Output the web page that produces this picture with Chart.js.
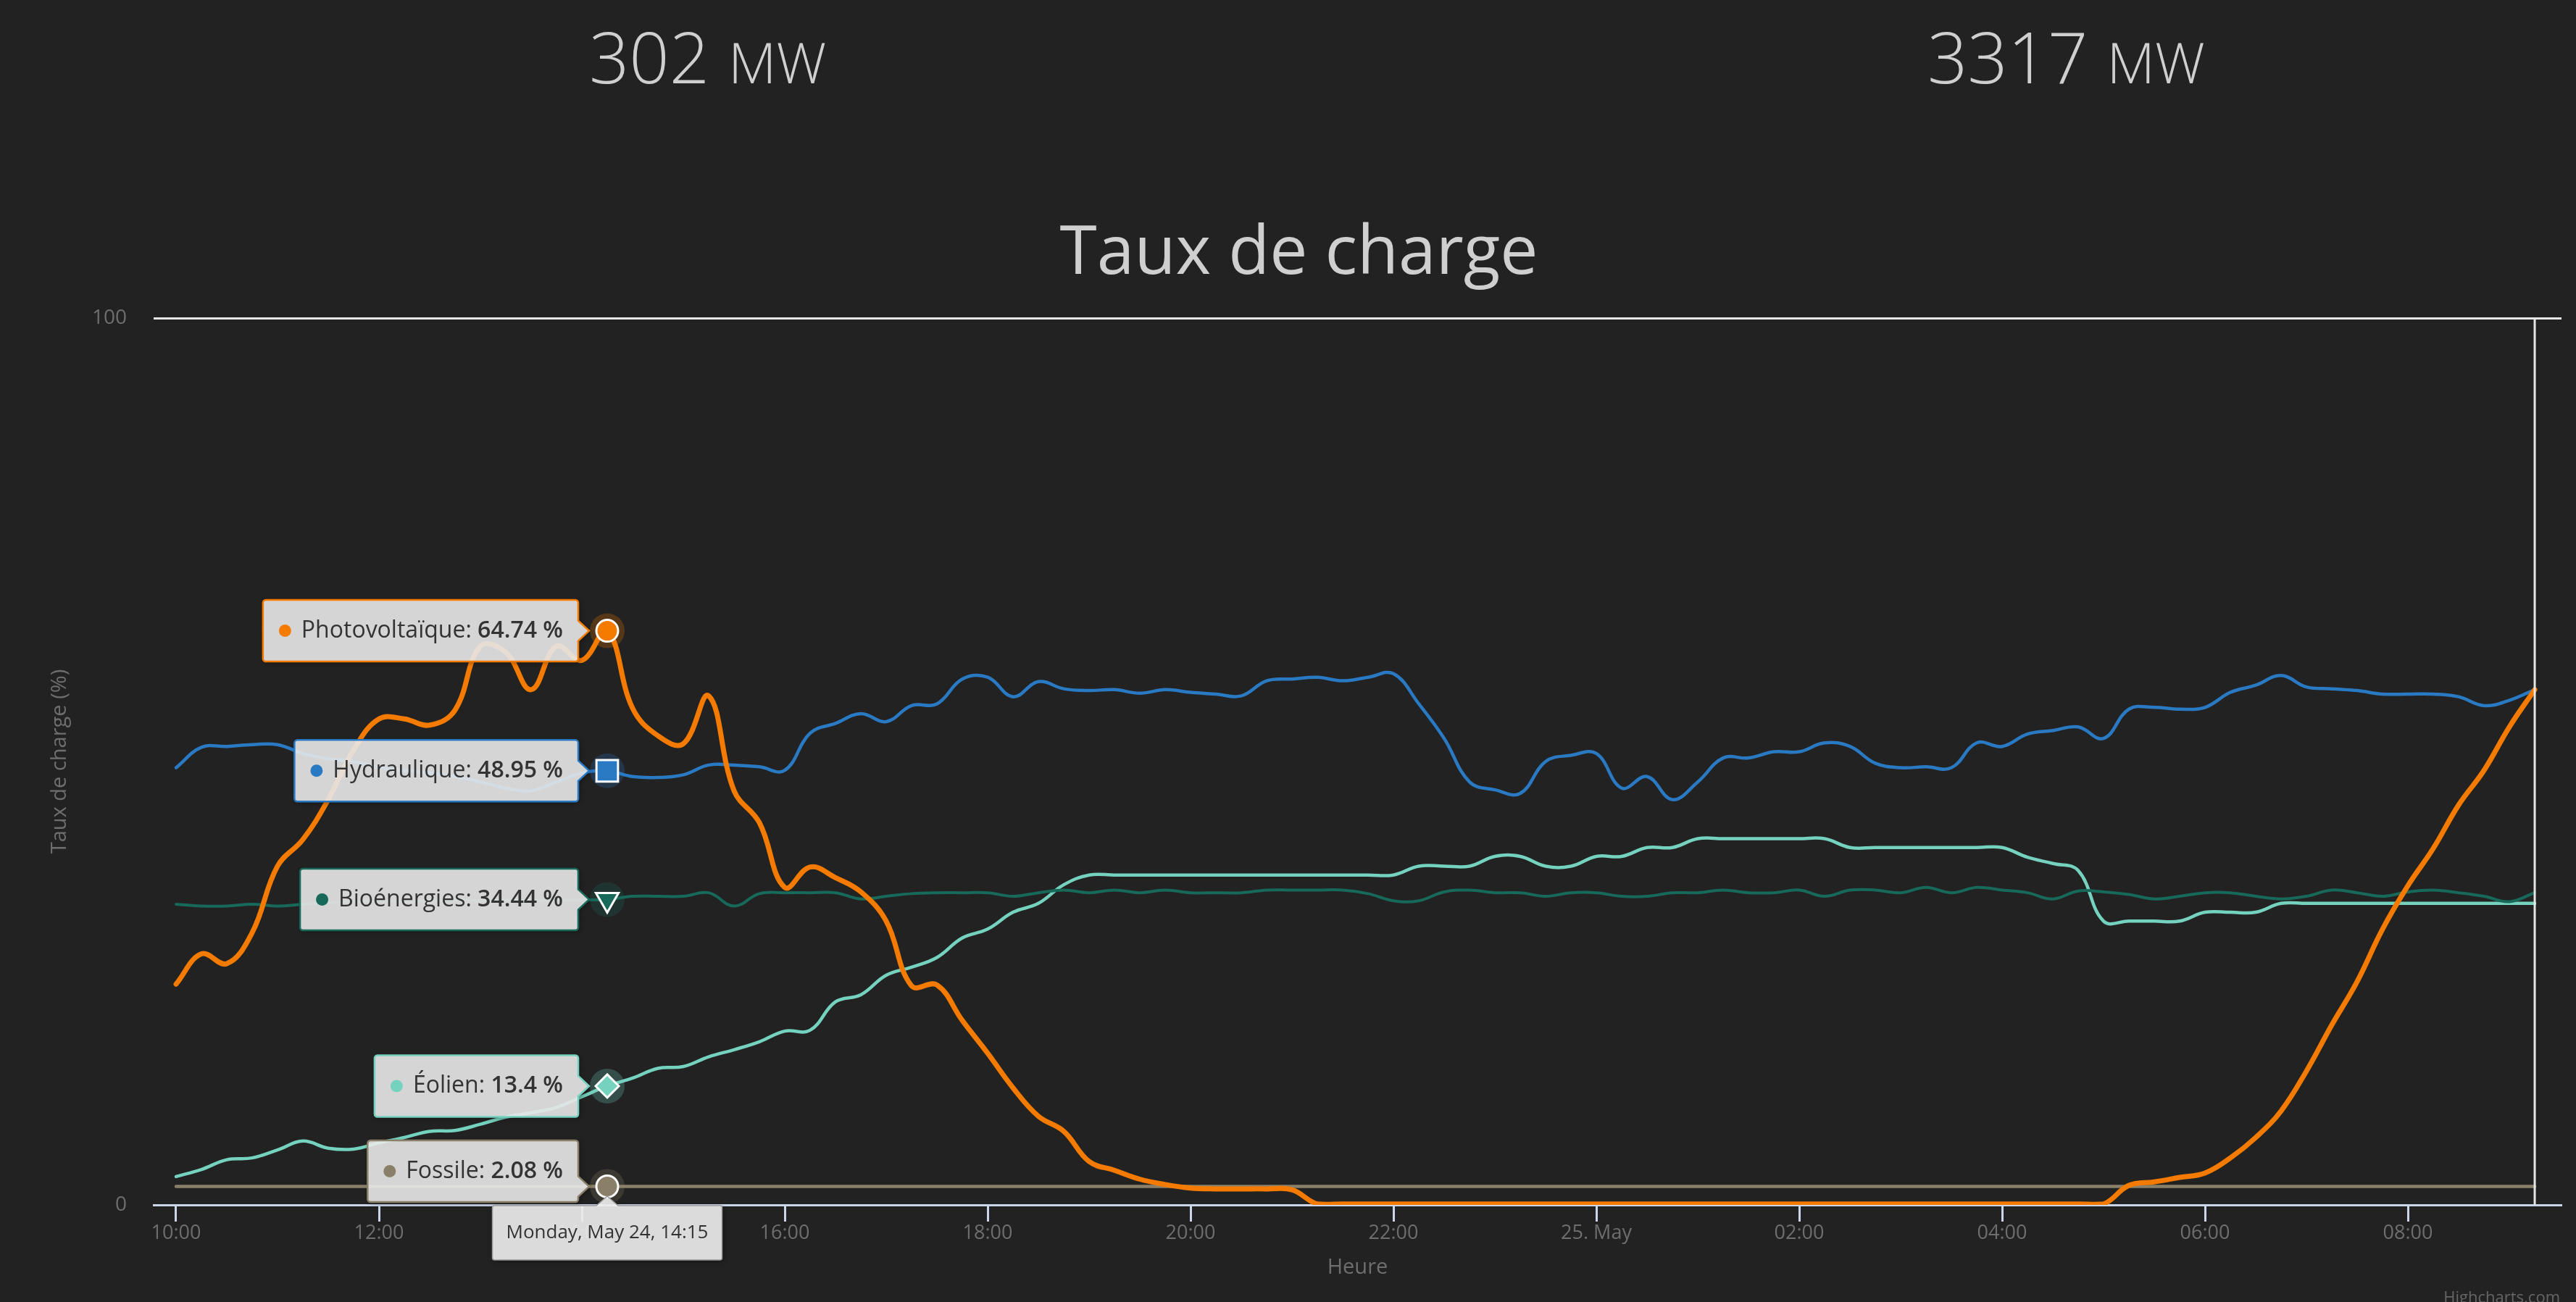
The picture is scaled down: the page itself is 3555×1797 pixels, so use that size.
<!DOCTYPE html>
<html>
<head>
<meta charset="utf-8">
<title>Taux de charge</title>
<script src="https://cdn.jsdelivr.net/npm/chart.js@4.4.1/dist/chart.umd.min.js"></script>
<style>
html,body{margin:0;padding:0;background:#222222;overflow:hidden;}
#wrap{position:relative;width:3555px;height:1797px;background:#222222;overflow:hidden;}
#c{position:absolute;left:0;top:0;}
.kpi{position:absolute;font-family:'Open Sans',sans-serif;font-weight:300;color:#cfcfcf;white-space:nowrap;line-height:1;}
.kpi .v{font-size:97px;}
.kpi .u{font-size:77px;margin-left:26px;}
.credit{position:absolute;right:22px;top:1774px;font-family:'Open Sans',sans-serif;font-size:22px;color:#666;}
</style>
</head>
<body>
<div id="wrap">
<canvas id="c" width="3555" height="1797"></canvas>
<div class="kpi" id="k0" style="left:813px;top:29px"></div>
<div class="kpi" id="k1" style="left:2660px;top:29px"></div>
<div class="credit">Highcharts.com</div>
</div>
<script>
// ---------- DATA ----------
const kpiValues = ['302', '3317'];
const kpiUnit = 'MW';

const times = [
  '10:00','10:15','10:30','10:45','11:00','11:15','11:30','11:45',
  '12:00','12:15','12:30','12:45','13:00','13:15','13:30','13:45',
  '14:00','14:15','14:30','14:45','15:00','15:15','15:30','15:45',
  '16:00','16:15','16:30','16:45','17:00','17:15','17:30','17:45',
  '18:00','18:15','18:30','18:45','19:00','19:15','19:30','19:45',
  '20:00','20:15','20:30','20:45','21:00','21:15','21:30','21:45',
  '22:00','22:15','22:30','22:45','23:00','23:15','23:30','23:45',
  '00:00','00:15','00:30','00:45','01:00','01:15','01:30','01:45',
  '02:00','02:15','02:30','02:45','03:00','03:15','03:30','03:45',
  '04:00','04:15','04:30','04:45','05:00','05:15','05:30','05:45',
  '06:00','06:15','06:30','06:45','07:00','07:15','07:30','07:45',
  '08:00','08:15','08:30','08:45','09:00','09:15'
];

const seriesNames = ['Photovoltaïque', 'Hydraulique', 'Bioénergies', 'Éolien', 'Fossile'];

const photovoltaique = [
  24.9, 28.3, 27.2, 30.7,  38.2, 41.2, 45.7, 51.3,
  54.8, 54.8, 54.1, 55.8,  63.0, 62.3, 58.1, 63.0,
  61.4, 64.74, 56.0, 52.9, 52.0, 57.4, 46.7, 43.1,
  35.8, 38.1, 36.9, 35.3,  32.0, 24.7, 24.8, 20.8,
  17.1, 13.2, 10.0, 8.3,   4.9, 3.9, 2.9, 2.3,
  1.9, 1.8, 1.8, 1.8,      1.7, 0.1, 0.1, 0.1,
  0.1, 0.1, 0.1, 0.1,      0.1, 0.1, 0.1, 0.1,
  0.1, 0.1, 0.1, 0.1,      0.1, 0.1, 0.1, 0.1,
  0.1, 0.1, 0.1, 0.1,      0.1, 0.1, 0.1, 0.1,
  0.1, 0.1, 0.1, 0.1,      0.1, 2.2, 2.6, 3.1,
  3.6, 5.3, 7.6, 10.6,     15.1, 20.3, 25.2, 31.1,
  36.0, 40.2, 45.1, 49.0,  53.9, 58.1
];

const hydraulique = [
  49.3, 51.6, 51.7, 51.9,  51.9, 50.9, 50.3, 50.0,
  49.3, 49.0, 48.7, 48.3,  47.7, 47.0, 46.7, 47.7,
  48.7, 48.95, 48.3, 48.2, 48.5, 49.6, 49.6, 49.4,
  49.0, 53.2, 54.3, 55.4,  54.5, 56.3, 56.5, 59.3,
  59.5, 57.3, 59.0, 58.2,  58.0, 58.1, 57.7, 58.1,
  57.8, 57.6, 57.4, 59.1,  59.3, 59.5, 59.1, 59.5,
  59.9, 56.5, 52.6, 47.7,  46.8, 46.4, 50.0, 50.7,
  50.9, 47.0, 48.3, 45.7,  47.7, 50.4, 50.4, 51.1,
  51.1, 52.1, 51.7, 49.8,  49.3, 49.4, 49.3, 52.1,
  51.7, 53.1, 53.5, 53.9,  52.6, 55.9, 56.1, 55.9,
  56.1, 57.8, 58.6, 59.7,  58.4, 58.2, 58.0, 57.6,
  57.6, 57.6, 57.3, 56.3,  56.9, 58.1
];

const bioenergies = [
  33.9, 33.7, 33.7, 33.9,  33.7, 33.9, 34.1, 34.2,
  34.3, 34.2, 34.3, 34.4,  34.3, 34.4, 34.3, 34.4,
  34.4, 34.44, 34.8, 34.8, 34.8, 35.2, 33.7, 35.1,
  35.2, 35.2, 35.2, 34.5,  34.8, 35.1, 35.2, 35.2,
  35.2, 34.8, 35.2, 35.5,  35.2, 35.5, 35.2, 35.5,
  35.2, 35.2, 35.2, 35.5,  35.5, 35.5, 35.5, 35.1,
  34.3, 34.3, 35.3, 35.5,  35.2, 35.2, 34.8, 35.2,
  35.2, 34.8, 34.8, 35.2,  35.2, 35.5, 35.2, 35.2,
  35.5, 34.8, 35.5, 35.5,  35.2, 35.8, 35.2, 35.8,
  35.5, 35.2, 34.5, 35.4,  35.3, 35.0, 34.5, 34.8,
  35.2, 35.2, 34.8, 34.5,  34.8, 35.5, 35.2, 34.8,
  35.3, 35.5, 35.2, 34.8,  34.2, 35.2
];

const eolien = [
  3.2, 4.0, 5.1, 5.3,      6.2, 7.2, 6.4, 6.3,
  7.0, 7.6, 8.3, 8.4,      9.1, 9.9, 10.4, 11.0,
  12.2, 13.4, 14.3, 15.4,  15.6, 16.7, 17.5, 18.4,
  19.6, 19.7, 22.9, 23.7,  25.9, 26.8, 27.9, 30.1,
  31.1, 33.0, 34.0, 36.1,  37.2, 37.2, 37.2, 37.2,
  37.2, 37.2, 37.2, 37.2,  37.2, 37.2, 37.2, 37.2,
  37.2, 38.2, 38.2, 38.2,  39.3, 39.3, 38.2, 38.2,
  39.3, 39.3, 40.3, 40.3,  41.3, 41.3, 41.3, 41.3,
  41.3, 41.3, 40.3, 40.3,  40.3, 40.3, 40.3, 40.3,
  40.3, 39.2, 38.5, 37.7,  32.0, 32.0, 32.0, 32.0,
  33.0, 33.0, 33.0, 34.0,  34.0, 34.0, 34.0, 34.0,
  34.0, 34.0, 34.0, 34.0,  34.0, 34.0
];

const fossile = [
  2.08, 2.08, 2.08, 2.08,  2.08, 2.08, 2.08, 2.08,
  2.08, 2.08, 2.08, 2.08,  2.08, 2.08, 2.08, 2.08,
  2.08, 2.08, 2.08, 2.08,  2.08, 2.08, 2.08, 2.08,
  2.08, 2.08, 2.08, 2.08,  2.08, 2.08, 2.08, 2.08,
  2.08, 2.08, 2.08, 2.08,  2.08, 2.08, 2.08, 2.08,
  2.08, 2.08, 2.08, 2.08,  2.08, 2.08, 2.08, 2.08,
  2.08, 2.08, 2.08, 2.08,  2.08, 2.08, 2.08, 2.08,
  2.08, 2.08, 2.08, 2.08,  2.08, 2.08, 2.08, 2.08,
  2.08, 2.08, 2.08, 2.08,  2.08, 2.08, 2.08, 2.08,
  2.08, 2.08, 2.08, 2.08,  2.08, 2.08, 2.08, 2.08,
  2.08, 2.08, 2.08, 2.08,  2.08, 2.08, 2.08, 2.08,
  2.08, 2.08, 2.08, 2.08,  2.08, 2.08
];

const xTickValues = [10, 12, 14, 16, 18, 20, 22, 24, 26, 28, 30, 32];
const xTickLabels = ['10:00', '12:00', '14:00', '16:00', '18:00', '20:00', '22:00', '25. May', '02:00', '04:00', '06:00', '08:00'];
const yTickValues = [0, 100];

const hoverIndex = 17;
const hoverDay = 'Monday, May 24';

// ---------- STYLE ----------
const FONT = "'Open Sans', sans-serif";
const colors = ['#f47b00', '#2a79c3', '#17695a', '#74d2be', '#8a8069'];
const lineWidths = [7, 4.5, 4, 4.5, 4.5];
const markerStyles = ['circle', 'rect', 'triangle', 'rectRot', 'circle'];
const markerRotation = [0, 0, 180, 0, 0];
const markerRadius = [15, 21, 18, 16, 15];

// ---------- BUILD ----------
document.getElementById('k0').innerHTML = '<span class="v">' + kpiValues[0] + '</span><span class="u">' + kpiUnit + '</span>';
document.getElementById('k1').innerHTML = '<span class="v">' + kpiValues[1] + '</span><span class="u">' + kpiUnit + '</span>';

const xHours = times.map(t => {
  const p = t.split(':').map(Number);
  const v = p[0] + p[1] / 60;
  return v < 10 ? v + 24 : v;
});
const seriesValues = [photovoltaique, hydraulique, bioenergies, eolien, fossile];

Chart.defaults.font.family = FONT;

const datasets = seriesValues.map((vals, di) => ({
  label: seriesNames[di],
  data: vals.map((v, i) => ({ x: xHours[i], y: v })),
  borderColor: colors[di],
  backgroundColor: colors[di],
  borderWidth: lineWidths[di],
  tension: 0.4,
  fill: false,
  borderCapStyle: 'round',
  borderJoinStyle: 'round',
  pointStyle: markerStyles[di],
  pointRotation: markerRotation[di],
  pointRadius: c => (c.dataIndex === hoverIndex ? markerRadius[di] : 0),
  pointHoverRadius: c => (c.dataIndex === hoverIndex ? markerRadius[di] : 0),
  pointBorderColor: '#ffffff',
  pointBorderWidth: 3,
  pointBackgroundColor: colors[di],
  clip: { left: 20, top: 20, right: 20, bottom: 0 }
}));

function roundRectCallout(ctx, left, top, w, h, r, arrow) {
  const right = left + w, bottom = top + h;
  ctx.beginPath();
  ctx.moveTo(left + r, top);
  if (arrow && arrow.side === 'top') {
    ctx.lineTo(arrow.x - arrow.half, top);
    ctx.lineTo(arrow.x, arrow.y);
    ctx.lineTo(arrow.x + arrow.half, top);
  }
  ctx.lineTo(right - r, top);
  ctx.arcTo(right, top, right, top + r, r);
  if (arrow && arrow.side === 'right') {
    ctx.lineTo(right, arrow.cy - arrow.half);
    ctx.lineTo(arrow.x, arrow.y);
    ctx.lineTo(right, arrow.cy + arrow.half);
  }
  ctx.lineTo(right, bottom - r);
  ctx.arcTo(right, bottom, right - r, bottom, r);
  ctx.lineTo(left + r, bottom);
  ctx.arcTo(left, bottom, left, bottom - r, r);
  ctx.lineTo(left, top + r);
  ctx.arcTo(left, top, left + r, top, r);
  ctx.closePath();
}

const overlayPlugin = {
  id: 'overlay',
  beforeDatasetsDraw(chart) {
    const ctx = chart.ctx;
    chart.data.datasets.forEach((ds, di) => {
      const pt = chart.getDatasetMeta(di).data[hoverIndex];
      ctx.save();
      ctx.globalAlpha = 0.25;
      ctx.fillStyle = colors[di];
      ctx.beginPath();
      ctx.arc(pt.x, pt.y, 24, 0, Math.PI * 2);
      ctx.fill();
      ctx.restore();
    });
  },
  afterDatasetsDraw(chart) {
    const ctx = chart.ctx, area = chart.chartArea;
    const x = chart.scales.x.getPixelForValue(xHours[xHours.length - 1]);
    ctx.save();
    ctx.strokeStyle = '#e6e6e6';
    ctx.lineWidth = 3;
    ctx.beginPath();
    ctx.moveTo(x, area.top);
    ctx.lineTo(x, area.bottom);
    ctx.stroke();
    ctx.restore();
  },
  afterDraw(chart) {
    const ctx = chart.ctx, area = chart.chartArea;
    const boxH = 85, gap = 40, arrowW = 15, arrowHalf = 14, rad = 4;
    const fNorm = "32px " + FONT, fBold = "600 32px " + FONT;
    chart.data.datasets.forEach((ds, di) => {
      const pt = chart.getDatasetMeta(di).data[hoverIndex];
      const t1 = seriesNames[di] + ': ';
      const t2 = String(seriesValues[di][hoverIndex]) + ' %';
      ctx.save();
      ctx.font = fNorm; const w1 = ctx.measureText(t1).width;
      ctx.font = fBold; const w2 = ctx.measureText(t2).width;
      const right = pt.x - gap;
      const w = 22 + 17 + 14 + w1 + w2 + 21;
      const left = right - w;
      let top = pt.y - boxH / 2;
      if (top + boxH > area.bottom - 4) top = area.bottom - 4 - boxH;
      const cy = Math.min(Math.max(pt.y, top + rad + arrowHalf), top + boxH - rad - arrowHalf);
      roundRectCallout(ctx, left, top, w, boxH, rad, { side: 'right', cy: cy, half: arrowHalf, x: right + arrowW, y: pt.y });
      ctx.shadowColor = 'rgba(0,0,0,0.45)';
      ctx.shadowBlur = 6;
      ctx.shadowOffsetX = 2;
      ctx.shadowOffsetY = 2;
      ctx.fillStyle = 'rgba(247,247,247,0.85)';
      ctx.fill();
      ctx.shadowColor = 'rgba(0,0,0,0)';
      ctx.strokeStyle = colors[di];
      ctx.lineWidth = 2.5;
      ctx.stroke();
      const my = top + boxH / 2;
      ctx.fillStyle = colors[di];
      ctx.beginPath();
      ctx.arc(left + 22 + 8.5, my, 8.5, 0, Math.PI * 2);
      ctx.fill();
      ctx.fillStyle = '#333333';
      ctx.textBaseline = 'middle';
      ctx.textAlign = 'left';
      ctx.font = fNorm;
      ctx.fillText(t1, left + 53, my);
      ctx.font = fBold;
      ctx.fillText(t2, left + 53 + w1, my);
      ctx.restore();
    });
    // header label
    const hx = chart.scales.x.getPixelForValue(xHours[hoverIndex]);
    const header = hoverDay + ', ' + times[hoverIndex];
    ctx.save();
    ctx.font = "26px " + FONT;
    const hw = ctx.measureText(header).width + 38;
    const htop = area.bottom + 1, hh = 75;
    roundRectCallout(ctx, hx - hw / 2, htop, hw, hh, 3, { side: 'top', x: hx, y: htop - 13, half: 15 });
    ctx.shadowColor = 'rgba(0,0,0,0.45)';
    ctx.shadowBlur = 6;
    ctx.shadowOffsetX = 2;
    ctx.shadowOffsetY = 2;
    ctx.fillStyle = 'rgba(247,247,247,0.88)';
    ctx.fill();
    ctx.shadowColor = 'rgba(0,0,0,0)';
    ctx.strokeStyle = '#9a9a9a';
    ctx.lineWidth = 1.5;
    ctx.stroke();
    ctx.fillStyle = '#333333';
    ctx.textAlign = 'center';
    ctx.textBaseline = 'middle';
    ctx.fillText(header, hx, htop + hh / 2);
    ctx.restore();
  }
};

new Chart(document.getElementById('c').getContext('2d'), {
  type: 'line',
  data: { datasets: datasets },
  options: {
    responsive: false,
    animation: false,
    devicePixelRatio: 1,
    events: [],
    layout: { padding: { left: 50, right: 20, top: 0, bottom: 0 } },
    plugins: {
      legend: { display: false },
      tooltip: { enabled: false },
      title: {
        display: true,
        text: 'Taux de charge',
        color: '#cfcfcf',
        font: { family: FONT, size: 93, weight: 'normal', lineHeight: 1.2 },
        padding: { top: 296, bottom: 31.4 }
      }
    },
    scales: {
      x: {
        type: 'linear',
        min: 9.7786,
        max: 33.514,
        afterBuildTicks: s => { s.ticks = xTickValues.map(v => ({ value: v })); },
        afterFit: s => { s.height = 134; },
        ticks: {
          callback: (v, i) => xTickLabels[i],
          color: '#6e6e6e',
          font: { family: FONT, size: 27 },
          padding: 0,
          maxRotation: 0,
          autoSkip: false
        },
        grid: { drawOnChartArea: false, drawTicks: true, tickLength: 23, tickColor: '#ccd6eb', tickWidth: 3 },
        border: { display: true, color: '#ccd6eb', width: 3 },
        title: {
          display: true, text: 'Heure', color: '#6e6e6e',
          font: { family: FONT, size: 29, lineHeight: 1.2 },
          padding: { top: 0, bottom: 30 }
        }
      },
      y: {
        min: 0,
        max: 100,
        afterBuildTicks: s => { s.ticks = yTickValues.map(v => ({ value: v })); },
        afterFit: s => { s.width = 162; },
        ticks: { color: '#6e6e6e', font: { family: FONT, size: 28 }, padding: 37 },
        grid: {
          drawTicks: false,
          lineWidth: 3,
          color: c => (c.tick && c.tick.value === 100 ? '#e6e6e6' : 'rgba(0,0,0,0)')
        },
        border: { display: false },
        title: {
          display: true, text: 'Taux de charge (%)', color: '#6e6e6e',
          font: { family: FONT, size: 29, lineHeight: 1.2 },
          padding: { top: 15, bottom: 0 }
        }
      }
    }
  },
  plugins: [overlayPlugin]
});
</script>
</body>
</html>
